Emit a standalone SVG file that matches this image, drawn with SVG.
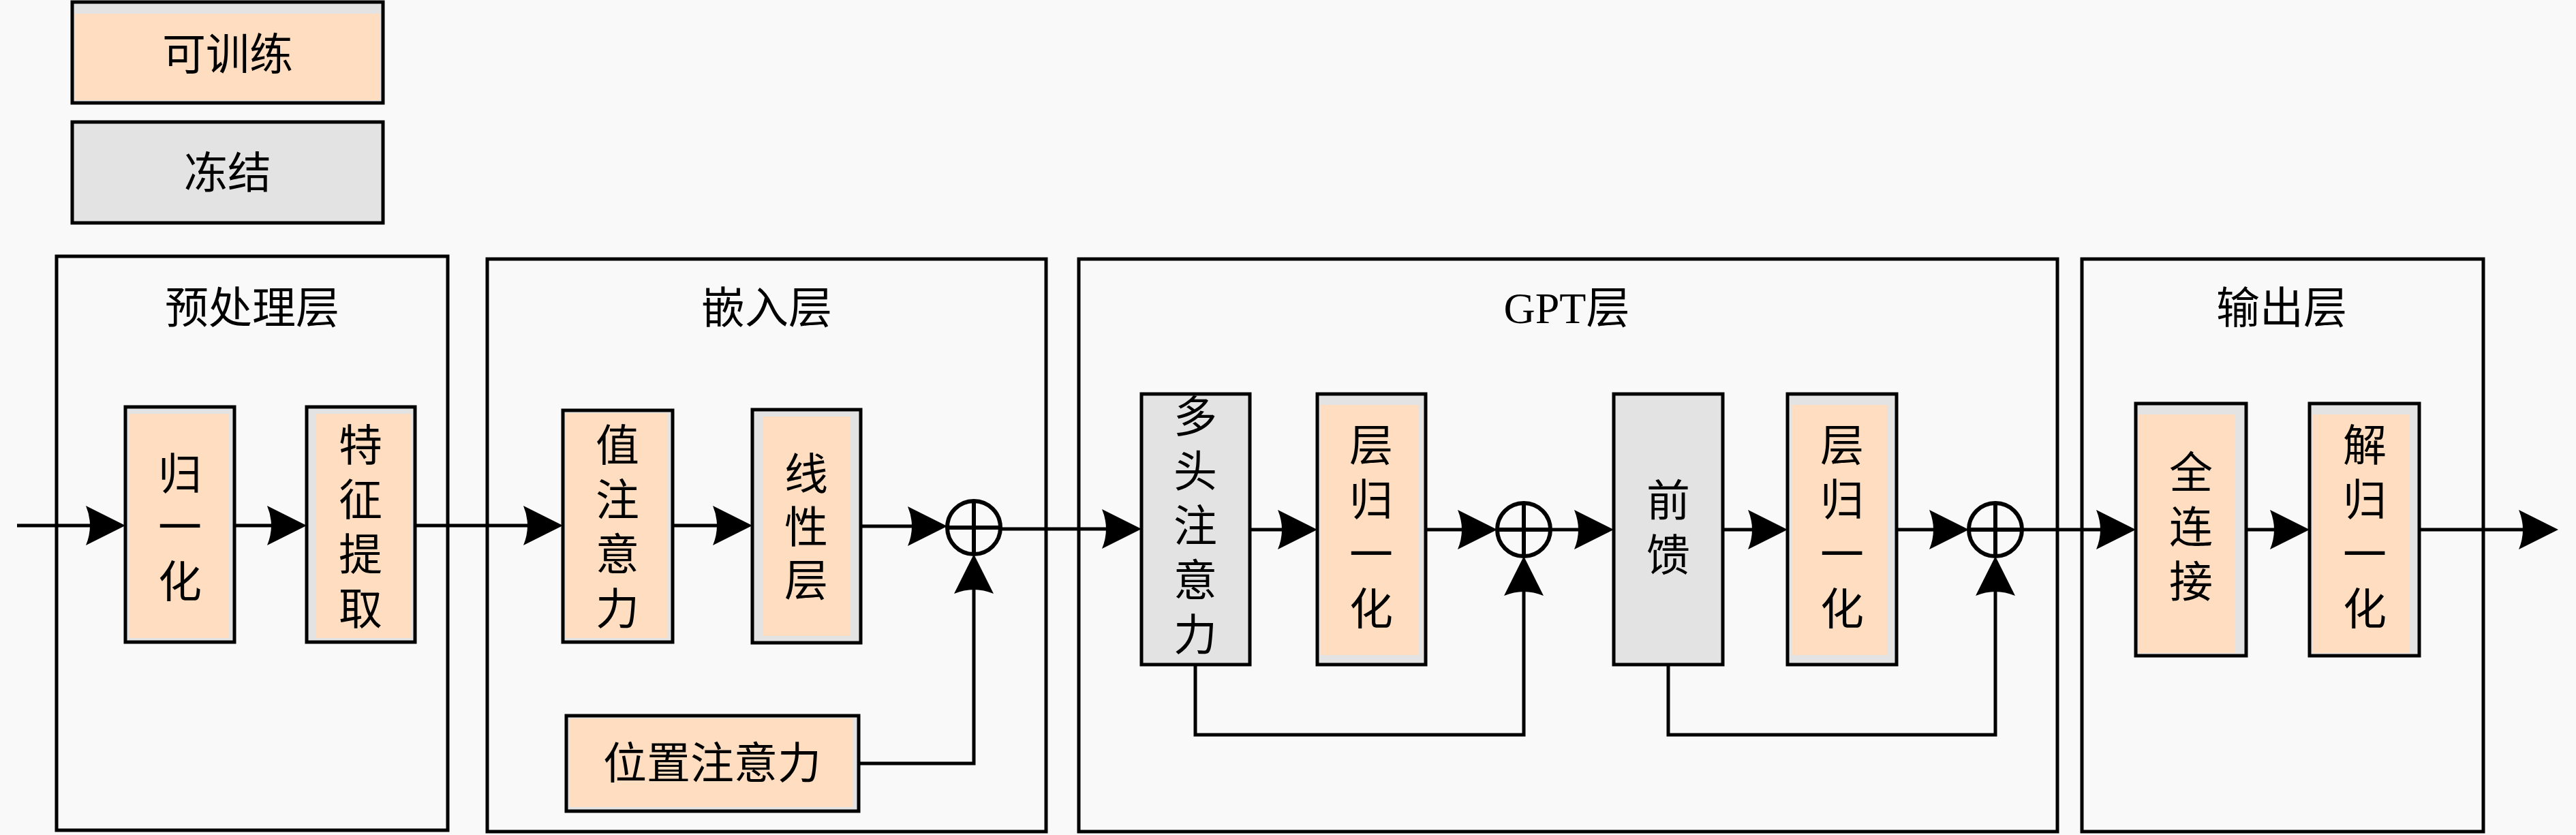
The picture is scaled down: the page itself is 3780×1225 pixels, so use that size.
<svg xmlns="http://www.w3.org/2000/svg" width="3780" height="1225" viewBox="0 0 3780 1225">
<style>
.bg{fill:#F9F9F9}
.layer{fill:none;stroke:#000;stroke-width:5}
.tr-o{fill:#E3E3E3;stroke:#000;stroke-width:5}
.tr-i{fill:#FFDDC0}
.fr{fill:#E3E3E3;stroke:#000;stroke-width:5}
.t{font-family:"Liberation Serif","Noto Sans CJK SC",serif;font-size:64px;fill:#000;text-anchor:middle;dominant-baseline:central}
.c{fill:none;stroke:#000;stroke-width:6}
.ln{fill:none;stroke:#000;stroke-width:5}
</style>
<defs>
<marker id="arr" markerUnits="userSpaceOnUse" viewBox="-62 -32 66 64" refX="-8" refY="0" markerWidth="66" markerHeight="64" orient="auto">
<path d="M0,0 L-58,-29 Q-46,0 -58,29 Z" fill="#000"/>
</marker>
</defs>
<rect class="bg" x="0" y="0" width="3780" height="1225"/>

<g id="legend-trainable">
<rect class="tr-o" x="106" y="3" width="456" height="148"/>
<rect class="tr-i" x="110" y="20" width="448" height="127"/>
<text class="t" x="334" y="80">可训练</text>
</g>
<g id="legend-frozen">
<rect class="fr" x="106" y="179" width="456" height="148"/>
<text class="t" x="334" y="254">冻结</text>
</g>

<g id="layer-preprocess">
<rect class="layer" x="83" y="376" width="574" height="842"/>
<text class="t" x="370" y="452">预处理层</text>
</g>
<g id="layer-embed">
<rect class="layer" x="715" y="380" width="820" height="840"/>
<text class="t" x="1125" y="452">嵌入层</text>
</g>
<g id="layer-gpt">
<rect class="layer" x="1583" y="380" width="1436" height="840"/>
<text class="t" x="2299" y="452">GPT层</text>
</g>
<g id="layer-output">
<rect class="layer" x="3055" y="380" width="589" height="840"/>
<text class="t" x="3348" y="452">输出层</text>
</g>

<g id="node-norm">
<rect class="tr-o" x="184" y="597" width="160" height="345"/>
<rect class="tr-i" x="190" y="607" width="146" height="329"/>
<text class="t"><tspan x="264" y="696">归</tspan><tspan x="264" y="774">一</tspan><tspan x="264" y="854">化</tspan></text>
</g>
<g id="node-feature">
<rect class="tr-o" x="450" y="597" width="159" height="345"/>
<rect class="tr-i" x="463" y="607" width="140" height="329"/>
<text class="t"><tspan x="529" y="654">特</tspan><tspan x="529" y="734">征</tspan><tspan x="529" y="814">提</tspan><tspan x="529" y="894">取</tspan></text>
</g>
<g id="node-value-attn">
<rect class="tr-o" x="826" y="602" width="161" height="340"/>
<rect class="tr-i" x="830" y="606" width="150" height="330"/>
<text class="t"><tspan x="906" y="654">值</tspan><tspan x="906" y="734">注</tspan><tspan x="906" y="814">意</tspan><tspan x="906" y="894">力</tspan></text>
</g>
<g id="node-linear">
<rect class="tr-o" x="1104" y="601" width="159" height="342"/>
<rect class="tr-i" x="1120" y="611" width="128" height="322"/>
<text class="t"><tspan x="1183" y="696">线</tspan><tspan x="1183" y="774">性</tspan><tspan x="1183" y="852">层</tspan></text>
</g>
<g id="node-pos-attn">
<rect class="tr-o" x="831" y="1050" width="429" height="140"/>
<rect class="tr-i" x="835" y="1054" width="416" height="130"/>
<text class="t" x="1045" y="1120">位置注意力</text>
</g>
<g id="node-plus1">
<circle class="c" cx="1429" cy="774" r="39"/>
<path class="c" d="M1390,774 H1468 M1429,735 V813"/>
</g>

<g id="node-mha">
<rect class="fr" x="1675" y="578" width="159" height="397"/>
<text class="t"><tspan x="1754" y="612">多</tspan><tspan x="1754" y="692">头</tspan><tspan x="1754" y="772">注</tspan><tspan x="1754" y="852">意</tspan><tspan x="1754" y="932">力</tspan></text>
</g>
<g id="node-ln1">
<rect class="tr-o" x="1933" y="578" width="159" height="397"/>
<rect class="tr-i" x="1937" y="594" width="145" height="367"/>
<text class="t"><tspan x="2012" y="654">层</tspan><tspan x="2012" y="734">归</tspan><tspan x="2012" y="814">一</tspan><tspan x="2012" y="894">化</tspan></text>
</g>
<g id="node-plus2">
<circle class="c" cx="2236" cy="777" r="39"/>
<path class="c" d="M2197,777 H2275 M2236,738 V816"/>
</g>
<g id="node-ffn">
<rect class="fr" x="2368" y="578" width="160" height="397"/>
<text class="t"><tspan x="2448" y="735">前</tspan><tspan x="2448" y="815">馈</tspan></text>
</g>
<g id="node-ln2">
<rect class="tr-o" x="2623" y="578" width="160" height="397"/>
<rect class="tr-i" x="2629" y="594" width="140" height="367"/>
<text class="t"><tspan x="2703" y="654">层</tspan><tspan x="2703" y="734">归</tspan><tspan x="2703" y="814">一</tspan><tspan x="2703" y="894">化</tspan></text>
</g>
<g id="node-plus3">
<circle class="c" cx="2928" cy="777" r="39"/>
<path class="c" d="M2889,777 H2967 M2928,738 V816"/>
</g>

<g id="node-fc">
<rect class="tr-o" x="3134" y="592" width="162" height="370"/>
<rect class="tr-i" x="3138" y="608" width="142" height="350"/>
<text class="t"><tspan x="3215" y="694">全</tspan><tspan x="3215" y="774">连</tspan><tspan x="3215" y="854">接</tspan></text>
</g>
<g id="node-denorm">
<rect class="tr-o" x="3389" y="592" width="161" height="370"/>
<rect class="tr-i" x="3393" y="608" width="143" height="350"/>
<text class="t"><tspan x="3470" y="654">解</tspan><tspan x="3470" y="734">归</tspan><tspan x="3470" y="814">一</tspan><tspan x="3470" y="894">化</tspan></text>
</g>

<g id="connectors">
<path class="ln" marker-end="url(#arr)" d="M25,771 H176"/>
<path class="ln" marker-end="url(#arr)" d="M344,771 H442"/>
<path class="ln" marker-end="url(#arr)" d="M609,771 H818"/>
<path class="ln" marker-end="url(#arr)" d="M987,771 H1096"/>
<path class="ln" marker-end="url(#arr)" d="M1263,772 H1382"/>
<path class="ln" marker-end="url(#arr)" d="M1260,1120 H1429 V821"/>
<path class="ln" marker-end="url(#arr)" d="M1468,776 H1667"/>
<path class="ln" marker-end="url(#arr)" d="M1834,777 H1925"/>
<path class="ln" marker-end="url(#arr)" d="M2092,777 H2189"/>
<path class="ln" marker-end="url(#arr)" d="M1754,975 V1078 H2236 V824"/>
<path class="ln" marker-end="url(#arr)" d="M2275,777 H2360"/>
<path class="ln" marker-end="url(#arr)" d="M2528,777 H2615"/>
<path class="ln" marker-end="url(#arr)" d="M2783,777 H2881"/>
<path class="ln" marker-end="url(#arr)" d="M2448,975 V1078 H2928 V824"/>
<path class="ln" marker-end="url(#arr)" d="M2967,777 H3126"/>
<path class="ln" marker-end="url(#arr)" d="M3296,777 H3381"/>
<path class="ln" marker-end="url(#arr)" d="M3550,777 H3746"/>
</g>
</svg>
